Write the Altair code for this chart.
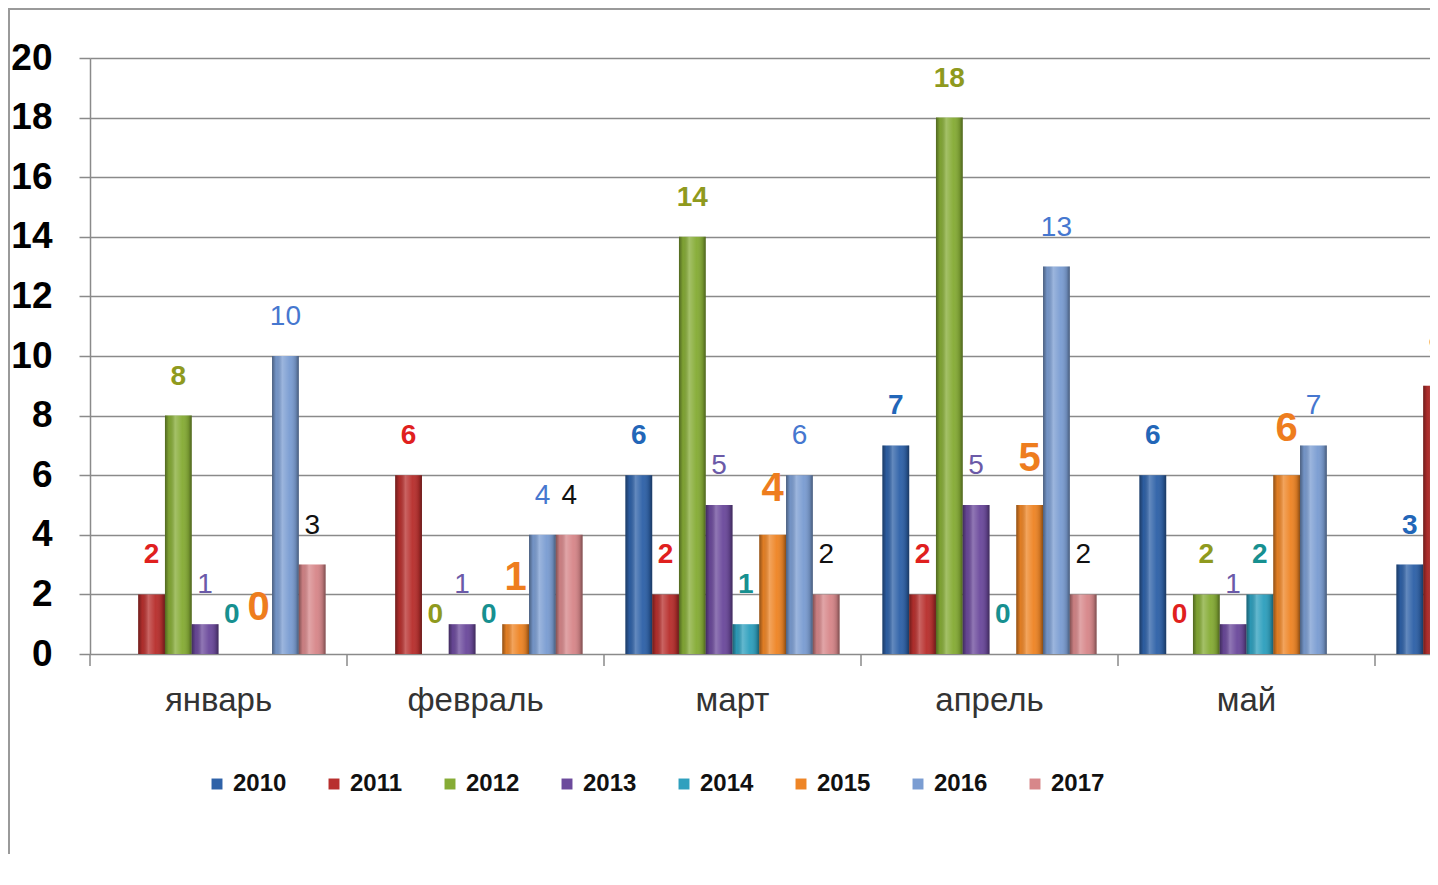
import altair as alt
import pandas as pd

# ---------------- data ----------------
months = ["январь", "февраль", "март", "апрель", "май", "июнь"]
years = ["2010", "2011", "2012", "2013", "2014", "2015", "2016", "2017"]
v2010 = [None, None, 6, 7, 6, 3]
v2011 = [2, 6, 2, 2, 0, 9]
v2012 = [8, 0, 14, 18, 2, None]
v2013 = [1, 1, 5, 5, 1, None]
v2014 = [0, 0, 1, 0, 2, None]
v2015 = [0, 1, 4, 5, 6, None]
v2016 = [10, 4, 6, 13, 7, None]
v2017 = [3, 4, 2, 2, None, None]
y_ticks = [0, 2, 4, 6, 8, 10, 12, 14, 16, 18, 20]

series = dict(zip(years, [v2010, v2011, v2012, v2013, v2014, v2015, v2016, v2017]))
rows = [
    {"month": m, "year": y, "value": v}
    for y in years
    for m, v in zip(months, series[y])
    if v is not None
]
df = pd.DataFrame(rows)

# ---------------- styles ----------------
FONT = "Liberation Sans"
GRID = "#8a8a8a"
bar_colors = ["#2F62A8", "#B8302E", "#86AC36", "#6C4A9C",
              "#2FA0BE", "#EE8526", "#7B9DD2", "#D7878A"]
label_colors = ["#2266B8", "#E0201E", "#8F9A1E", "#6B5AA8",
                "#179090", "#EE7D1E", "#4677CF", "#111111"]

W, H = 1340, 596

x_scale = alt.Scale(domain=months, range=[0, 1542], paddingInner=0, paddingOuter=0)
xoff_scale = alt.Scale(domain=years, paddingInner=0, paddingOuter=0.8)
y_scale = alt.Scale(domain=[0, 20], nice=False)

x_axis = alt.Axis(title=None, domain=False, ticks=False, labelAngle=0,
                  labelFont=FONT, labelFontSize=33, labelColor="#333333",
                  labelPadding=30,
                  labelExpr="datum.value == 'июнь' ? '' : datum.label")
y_axis = alt.Axis(title=None, values=y_ticks, grid=True, gridColor=GRID,
                  gridWidth=1.5, domainColor=GRID, domainWidth=1.5,
                  tickColor=GRID, tickWidth=1.5, tickSize=11,
                  labelFont=FONT, labelFontSize=37, labelFontWeight="bold",
                  labelColor="#000000", labelPadding=27)

X = alt.X("month:N", scale=x_scale, axis=x_axis, sort=months)
XO = alt.XOffset("year:N", scale=xoff_scale, sort=years)
Y = alt.Y("value:Q", scale=y_scale, axis=y_axis)

base = alt.Chart(df).encode(x=X, xOffset=XO, y=Y)

bars = base.mark_bar(clip=True).encode(
    color=alt.Color(
        "year:N",
        scale=alt.Scale(domain=years, range=bar_colors),
        legend=alt.Legend(
            title=None, orient="none", direction="horizontal", columns=8,
            legendX=115, legendY=714, symbolType="square", symbolSize=120,
            symbolStrokeWidth=0, labelFont=FONT, labelFontSize=24,
            labelFontWeight="bold", labelColor="#111111", labelOffset=4,
            columnPadding=35,
        ),
    )
)

shade = base.mark_bar(
    clip=True,
    color=alt.Gradient(
        gradient="linear", x1=0, x2=1, y1=0, y2=0,
        stops=[
            alt.GradientStop(offset=0, color="rgba(0,0,0,0.4)"),
            alt.GradientStop(offset=0.15, color="rgba(0,0,0,0.06)"),
            alt.GradientStop(offset=0.38, color="rgba(255,255,255,0.25)"),
            alt.GradientStop(offset=0.65, color="rgba(255,255,255,0.03)"),
            alt.GradientStop(offset=0.88, color="rgba(0,0,0,0.14)"),
            alt.GradientStop(offset=1, color="rgba(0,0,0,0.42)"),
        ],
    ),
)


def label_layer(sel_years, size, weight, dy):
    return (
        alt.Chart(df)
        .transform_filter(alt.FieldOneOfPredicate(field="year", oneOf=sel_years))
        .mark_text(clip=True, font=FONT, fontSize=size, fontWeight=weight,
                   dy=dy, baseline="middle", align="center")
        .encode(
            x=X, xOffset=XO, y=Y,
            text=alt.Text("value:Q"),
            color=alt.Color("year:N",
                            scale=alt.Scale(domain=years, range=label_colors),
                            legend=None),
        )
    )


labels_bold = label_layer(["2010", "2011", "2012", "2014"], 28, "bold", -39)
labels_norm = label_layer(["2013", "2016", "2017"], 28, "normal", -39)
labels_big = label_layer(["2015"], 40, "bold", -46)

ticks = alt.Chart(pd.DataFrame({"month": months})).mark_rule(
    color=GRID, strokeWidth=1.5
).encode(
    x=alt.X("month:N", scale=x_scale, axis=x_axis, sort=months, bandPosition=0),
    y=alt.value(H),
    y2=alt.value(H + 12),
)

frame = alt.Chart(pd.DataFrame({"f": [0]})).mark_rect(
    fillOpacity=0, stroke="#9a9a9a", strokeWidth=2
).encode(
    x=alt.value(-81), x2=alt.value(W + 100),
    y=alt.value(-49), y2=alt.value(H + 400),
)

chart = (
    alt.layer(frame, ticks, bars, shade, labels_bold, labels_norm, labels_big)
    .resolve_scale(color="independent")
    .properties(
        width=W, height=H,
        padding={"left": 82, "top": 50, "right": 0, "bottom": 200},
        autosize=alt.AutoSizeParams(type="none"),
        background="white",
    )
    .configure_view(stroke=None)
)

chart.save("out.html", embed_options={"renderer": "svg", "actions": False})
